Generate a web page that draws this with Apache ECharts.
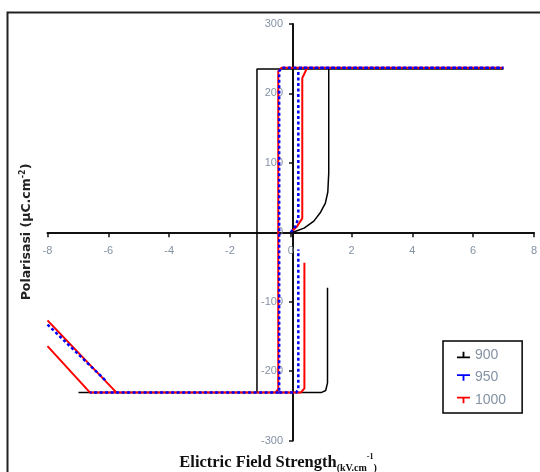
<!DOCTYPE html>
<html>
<head>
<meta charset="utf-8">
<script src="https://cdn.jsdelivr.net/npm/echarts@6/dist/echarts.min.js"></script>
<style>
    html, body {margin: 0; padding: 0; background: #fff;}
    #chart {width: 540px; height: 472px;}
</style>
</head>
<body>
<div id="chart"></div>
<script>
var names = ['900', '950', '1000'];
var colors = ['#000000', '#0000ff', '#ff0000'];
var xTicks = [-8, -6, -4, -2, 0, 2, 4, 6, 8];
var yTicks = [-300, -200, -100, 0, 100, 200, 300];

// [E (kV/cm), P (uC/cm2)], null = gap in the trace
var loop900 = [[0, 0], [0.16, 1.5], [0.44, 6], [0.76, 16], [0.97, 28], [1.14, 42], [1.22, 58], [1.25, 85],
    [1.25, 235], [7, 235], [-1.11, 235], [-1.11, -231], [-6.98, -231], [1.0, -231], [1.15, -228],
    [1.21, -217], [1.21, -80]];
var loop950 = [[0, 0], [0.15, 8], [0.25, 20], [0.25, 232], [0.32, 237], [7, 237], [-0.3, 237],
    [-0.38, 232], [-0.38, -231], [-6.6, -231], null,
    [-8, -133], [-6.08, -214], null,
    [-0.38, -231], [0.18, -231], [0.25, -226], [0.25, -25]];
var loop1000 = [[0, 0], [0.2, 8], [0.38, 20], [0.38, 222], [0.54, 237], [7, 237], [-0.3, 237],
    [-0.41, 232], [-0.41, -226], [-0.5, -231], [-6.6, -231], [-8, -164], null,
    [-8, -127], [-5.73, -231], [0.33, -231], [0.45, -225], [0.45, -44]];

function toData(arr) {
    return arr.map(function (p) {
        return p === null ? ['-', '-'] : p;
    });
}

var labelColor = '#8492a3';
var tickUp = 'path://M0,6h14v2h-14z M6,1h2v6h-2z';
var tickDown = 'path://M0,1h14v2h-14z M6,2h2v6h-2z';

// plot box, axes cross at the middle (0,0)
var gLeft = 47.5, gRight = 1.5, gTop = 24, gBottom = 31.5;
var gW = 540 - gLeft - gRight, gH = 472 - gTop - gBottom;

var myChart = echarts.init(document.getElementById('chart'));
var option = {
    animation: false,
    grid: {left: gLeft, right: gRight, top: gTop, bottom: gBottom},
    legend: {
        orient: 'vertical',
        left: 443,
        top: 341,
        padding: [7, 16, 6, 14],
        itemGap: 8.5,
        itemWidth: 13,
        itemHeight: 14,
        backgroundColor: '#fff',
        borderColor: '#000',
        borderWidth: 1.5,
        textStyle: {color: labelColor, fontSize: 14, fontFamily: 'Liberation Sans'},
        data: [
            {name: names[0], icon: tickUp},
            {name: names[1], icon: tickDown},
            {name: names[2], icon: tickDown}
        ]
    },
    xAxis: {
        type: 'value',
        min: xTicks[0],
        max: xTicks[xTicks.length - 1],
        interval: 2,
        offset: -gH / 2,
        splitLine: {show: false},
        axisLine: {onZero: false, lineStyle: {color: '#111', width: 2}},
        axisTick: {show: true, length: 5, lineStyle: {color: '#111', width: 1.5}},
        axisLabel: {margin: 13, color: labelColor, fontSize: 11, fontFamily: 'Liberation Sans'}
    },
    yAxis: {
        type: 'value',
        min: yTicks[0],
        max: yTicks[yTicks.length - 1],
        interval: 100,
        offset: -gW / 2,
        splitLine: {show: false},
        axisLine: {onZero: false, lineStyle: {color: '#111', width: 2}},
        axisTick: {show: true, length: 4, lineStyle: {color: '#111', width: 1.5}},
        axisLabel: {margin: 10, color: labelColor, fontSize: 11, fontFamily: 'Liberation Sans'}
    },
    series: [
        {
            name: names[0], type: 'line', data: toData(loop900), showSymbol: false, symbol: 'none',
            z: 2, color: colors[0], lineStyle: {color: colors[0], width: 1.5}
        },
        {
            name: names[1], type: 'line', data: toData(loop950), showSymbol: false, symbol: 'none',
            z: 4, color: colors[1], lineStyle: {color: colors[1], width: 2.5, type: [3, 2.5]}
        },
        {
            name: names[2], type: 'line', data: toData(loop1000), showSymbol: false, symbol: 'none',
            z: 3, color: colors[2], lineStyle: {color: colors[2], width: 2}
        }
    ],
    graphic: [
        {
            type: 'rect', z: -1, silent: true,
            shape: {x: 7.5, y: 12.5, width: 600, height: 520},
            style: {fill: 'none', stroke: '#222', lineWidth: 2}
        },
        {
            type: 'text', x: 27, y: 232, rotation: Math.PI / 2,
            style: {
                text: '{a|Polarisasi (μC.cm}{s|-2}{a|)}',
                align: 'center', verticalAlign: 'middle',
                rich: {
                    a: {fontSize: 12.5, fontWeight: 'bold', fontFamily: 'DejaVu Sans', fill: '#222', lineHeight: 16},
                    s: {fontSize: 8, fontWeight: 'bold', fontFamily: 'DejaVu Sans', fill: '#222', verticalAlign: 'top', lineHeight: 16}
                }
            }
        },
        {
            type: 'text', x: 278, y: 463,
            style: {
                text: '{a|Elictric Field Strength}{b|(kV.cm}{s|-1}{b|)}',
                align: 'center', verticalAlign: 'middle',
                rich: {
                    a: {fontSize: 16.5, fontWeight: 'bold', fontFamily: 'Liberation Serif', fill: '#111', lineHeight: 20},
                    b: {fontSize: 10, fontWeight: 'bold', fontFamily: 'Liberation Serif', fill: '#111', lineHeight: 20, verticalAlign: 'bottom'},
                    s: {fontSize: 8, fontWeight: 'bold', fontFamily: 'Liberation Serif', fill: '#111', lineHeight: 20, verticalAlign: 'top'}
                }
            }
        }
    ]
};
myChart.setOption(option, true);
</script>
</body>
</html>
